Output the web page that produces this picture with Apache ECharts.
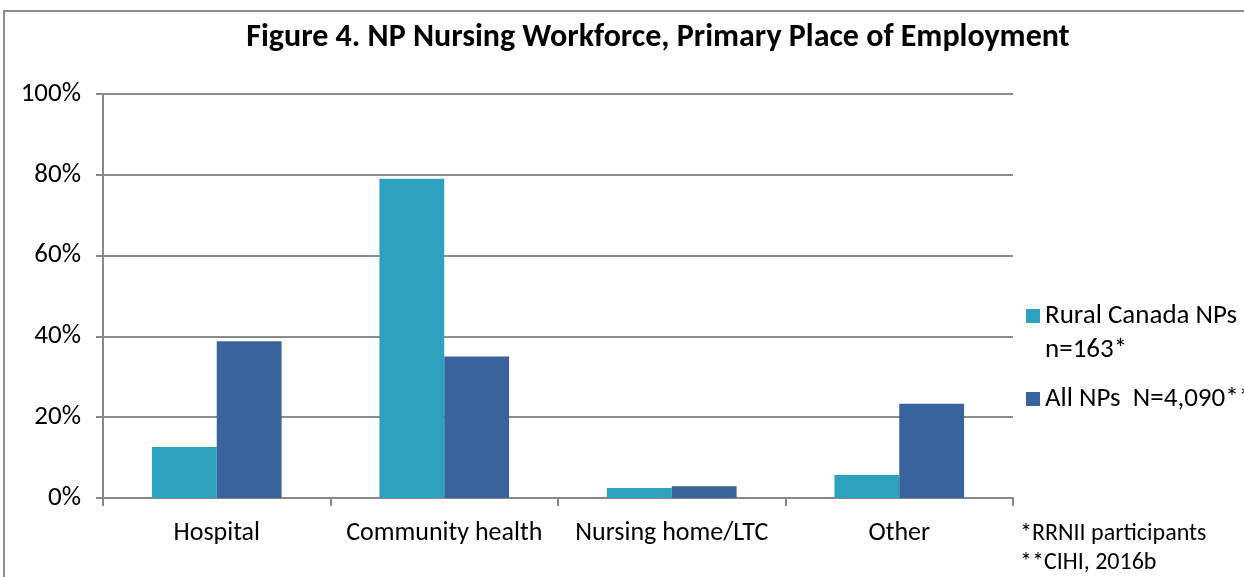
<!DOCTYPE html>
<html>
<head>
<meta charset="utf-8">
<script src="https://cdn.jsdelivr.net/npm/echarts@6/dist/echarts.min.js"></script>
<style>
  html, body { margin: 0; padding: 0; background: #fff; }
  #frame { position: absolute; left: 3px; top: 10px; width: 1260px; height: 580px; border: 2px solid #8c8c8c; box-sizing: border-box; }
  #chart { position: absolute; left: 0; top: 0; width: 1244px; height: 577px; }
</style>
</head>
<body>
<div id="frame"></div>
<div id="chart"></div>
<script>
// categories and values (percent)
const categories = ['Hospital', 'Community health', 'Nursing home/LTC', 'Other']
const ruralNPs = [12.6, 79.0, 2.5, 5.7]
const allNPs = [38.8, 35.0, 2.9, 23.3]
const seriesNames = ['Rural Canada NPs', 'All NPs  N=4,090**']
const yTicks = [0, 20, 40, 60, 80, 100]

const FONT = "Carlito, 'Liberation Sans Narrow', 'Open Sans', sans-serif"

let chart = echarts.init(document.getElementById('chart'))

// one legend per series so the two-line label lines up like the original
const legendBase = {
    orient: 'vertical',
    left: 1026,
    padding: 0,
    itemWidth: 14,
    itemHeight: 14,
    icon: 'rect',
}

let option = {
    animation: false,
    textStyle: { fontFamily: FONT },
    title: {
        text: 'Figure 4. NP Nursing Workforce, Primary Place of Employment',
        left: 653,
        top: 17,
        textAlign: 'center',
        textStyle: { fontSize: 32, fontWeight: 'bold', color: '#000', fontFamily: FONT }
    },
    grid: { left: 103, right: 231, top: 94, bottom: 79 },
    legend: [{
        ...legendBase,
        top: 265,
        data: [seriesNames[0]],
        // empty first line keeps the series name level with the icon
        formatter: (name) => ' \n' + name + '\nn=163*',
        textStyle: { fontSize: 27, color: '#000', lineHeight: 34, fontFamily: FONT }
    }, {
        ...legendBase,
        top: 382,
        data: [seriesNames[1]],
        textStyle: { fontSize: 27, color: '#000', lineHeight: 34, fontFamily: FONT }
    }],
    xAxis: {
        type: 'category',
        data: categories,
        axisLine: { lineStyle: { color: '#888', width: 2 } },
        axisTick: { show: true, length: 8, lineStyle: { color: '#888', width: 2 } },
        axisLabel: { fontSize: 26, color: '#000', margin: 22, interval: 0, fontFamily: FONT }
    },
    yAxis: {
        type: 'value',
        min: yTicks[0],
        max: yTicks[yTicks.length - 1],
        interval: 20,
        axisLine: { show: true, lineStyle: { color: '#888', width: 2 } },
        axisTick: { show: true, length: 7, lineStyle: { color: '#888', width: 2 } },
        splitLine: { lineStyle: { color: '#8c8c8c', width: 2 } },
        axisLabel: { fontSize: 27, color: '#000', margin: 22, formatter: '{value}%', fontFamily: FONT }
    },
    series: [{
        name: seriesNames[0],
        type: 'bar',
        data: ruralNPs,
        barGap: '0%',
        barCategoryGap: '43%',
        itemStyle: { color: '#2ca2bf' }
    }, {
        name: seriesNames[1],
        type: 'bar',
        data: allNPs,
        itemStyle: { color: '#38639c' }
    }],
    graphic: [{
        type: 'text',
        left: 1020,
        top: 519,
        style: { text: '*RRNII participants\n**CIHI, 2016b', fontSize: 24, lineHeight: 29, fill: '#000', fontFamily: FONT }
    }]
}

chart.setOption(option)
</script>
</body>
</html>
